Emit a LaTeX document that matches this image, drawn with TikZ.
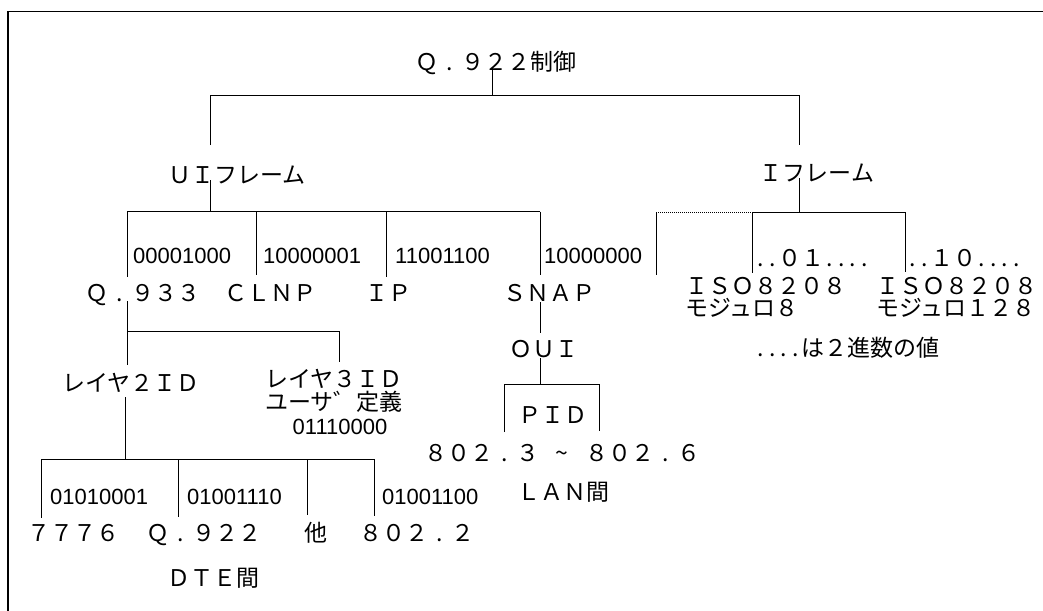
\documentclass[tikz,border=0pt]{standalone}
\usepackage{fontspec}
\setmainfont{Noto Sans CJK JP}
\newfontfamily\latf{Liberation Sans}
\newcommand\jpsz{\fontsize{23}{25}\selectfont}
\newcommand\binsz{\latf\fontsize{22}{24}\selectfont}
\newcommand\hd{\makebox[0.5em]{.}}
\newcommand\fd{\makebox[1em]{.}}
\newcommand\tld{\makebox[1em]{\symbol{126}}}
\tikzset{
  jp/.style={font=\jpsz, inner sep=0pt, anchor=base},
  jpw/.style={font=\jpsz, inner sep=0pt, anchor=base west},
  bin/.style={font=\binsz, inner sep=0pt, anchor=base west},
  binc/.style={font=\binsz, inner sep=0pt, anchor=base},
  wire/.style={line width=1pt, black},
  dotwire/.style={line width=1pt, black, dash pattern=on 1pt off 1pt},
  frame/.style={line width=1.6pt, black},
}
\begin{document}
\begin{tikzpicture}[x=1pt,y=-1pt]
\useasboundingbox (0,0) rectangle (1043,610);
% frame
\draw[frame] (1050,11.5) -- (8,11.5) -- (8,616);

% ---------- text nodes ----------
\node[jp] (q922) at (496,70.5) {Ｑ\fd{}９２２制御};
\node[jp] (ui) at (237,183.5) {ＵＩフレーム};
\node[jp] (ifr) at (817,181.5) {Ｉフレーム};

\node[bin] (b1) at (133,263) {00001000};
\node[bin] (b2) at (263,263) {10000001};
\node[bin] (b3) at (395,263) {11001100};
\node[bin] (b4) at (544,263) {10000000};

\node[jp] (q933) at (143,301.5) {Ｑ\fd{}９３３};
\node[jp] (clnp) at (270.5,301.5) {ＣＬＮＰ};
\node[jp] (ip) at (388.5,301.5) {ＩＰ};
\node[jp] (snap) at (549,301.5) {ＳＮＡＰ};

\node[jpw] (d1) at (755,266.5) {\hd{}\hd{}０１\hd{}\hd{}\hd{}\hd{}};
\node[jpw] (d2) at (907,266.5) {\hd{}\hd{}１０\hd{}\hd{}\hd{}\hd{}};
\node[jpw] (iso1a) at (685,294) {ＩＳＯ８２０８};
\node[jpw] (iso1b) at (685,316) {モジュロ８};
\node[jpw] (iso2a) at (876,294) {ＩＳＯ８２０８};
\node[jpw] (iso2b) at (876,316) {モジュロ１２８};
\node[jp] (note) at (847,356.5) {\hd{}\hd{}\hd{}\hd{}は２進数の値};

\node[jp] (oui) at (543.5,357.5) {ＯＵＩ};
\node[jp] (pid) at (553,423.5) {ＰＩＤ};
\node[jp] (rng) at (562,461.5) {８０２\fd{}３\hspace{0.5em}\tld\hspace{0.5em}８０２\fd{}６};
\node[jp] (lan) at (563,500.5) {ＬＡＮ間};

\node[jp] (l2id) at (131,391.5) {レイヤ２ＩＤ};
\node[jp] (l3a) at (334,387.5) {レイヤ３ＩＤ};
\node[jp] (l3b) at (334,410.5) {ユーサ゛定義};
\node[binc] (l3c) at (340,434) {01110000};

\node[bin] (c1) at (50,504) {01010001};
\node[bin] (c2) at (187,504) {01001110};
\node[bin] (c3) at (382,504) {01001100};

\node[jp] (e1) at (73.5,541.5) {７７７６};
\node[jp] (e2) at (204,541.5) {Ｑ\fd{}９２２};
\node[jp] (e3) at (316,541.5) {他};
\node[jp] (e4) at (417,541.5) {８０２\fd{}２};
\node[jp] (dte) at (213.5,586.5) {ＤＴＥ間};

% ---------- connectors ----------
% root
\coordinate (r0) at (492,69);
\coordinate (r1) at (492,95.7);
\coordinate (rL) at (210,95.7);
\coordinate (rR) at (799,95.7);
\coordinate (rLb) at (210,145);
\coordinate (rRb) at (799,145);
\draw[wire] (r0) -- (r1);
\draw[wire] (rLb) -- (rL) -- (rR) -- (rRb);

% UI frame
\coordinate (u0) at (210,180);
\coordinate (u1) at (210,211.7);
\coordinate (uL) at (127,211.7);
\coordinate (uR) at (540,211.7);
\draw[wire] (u0) -- (u1);
\draw[wire] (uL) -- (uR);
\draw[wire] (uL) -- (127,276.7) coordinate (ub1);
\draw[wire] (256.7,211.7) coordinate (ut2) -- (256.7,275) coordinate (ub2);
\draw[wire] (386,211.7) coordinate (ut3) -- (386,277) coordinate (ub3);
\draw[wire] (uR) -- (540,275) coordinate (ub4);

% I frame
\coordinate (i0) at (799,178);
\coordinate (i1) at (799,212);
\coordinate (iL) at (656,212);
\coordinate (iM) at (752,212);
\coordinate (iR) at (905,212);
\draw[wire] (i0) -- (i1);
\draw[dotwire] (iL) -- (iM);
\draw[wire] (iM) -- (iR);
\draw[wire] (iL) -- (656,275) coordinate (ib1);
\draw[wire] (iM) -- (752,273) coordinate (ib2);
\draw[wire] (iR) -- (905,272) coordinate (ib3);

% Q.933
\coordinate (q0) at (127,301);
\coordinate (q1) at (127,331);
\coordinate (q2) at (127,365);
\coordinate (q3) at (339,331);
\coordinate (q4) at (339,362);
\draw[wire] (q0) -- (q2);
\draw[wire] (q1) -- (q3) -- (q4);

% SNAP
\coordinate (s0) at (540,302);
\coordinate (s1) at (540,333);
\coordinate (s2) at (540,358);
\coordinate (s3) at (540,384);
\coordinate (sL) at (504,384);
\coordinate (sR) at (599,384);
\draw[wire] (s0) -- (s1);
\draw[wire] (s2) -- (s3);
\draw[wire] (504,432) coordinate (sLb) -- (sL) -- (sR) -- (599,431) coordinate (sRb);

% Layer 2 ID
\coordinate (k0) at (125.7,397);
\coordinate (k1) at (125.7,459);
\coordinate (kL) at (41.7,459);
\coordinate (kR) at (374,459);
\draw[wire] (k0) -- (k1);
\draw[wire] (kL) -- (kR);
\draw[wire] (kL) -- (41.7,518) coordinate (kb1);
\draw[wire] (178,459) coordinate (kt2) -- (178,517) coordinate (kb2);
\draw[wire] (307.7,459) coordinate (kt3) -- (307.7,515) coordinate (kb3);
\draw[wire] (kR) -- (374,516) coordinate (kb4);
\end{tikzpicture}
\end{document}
